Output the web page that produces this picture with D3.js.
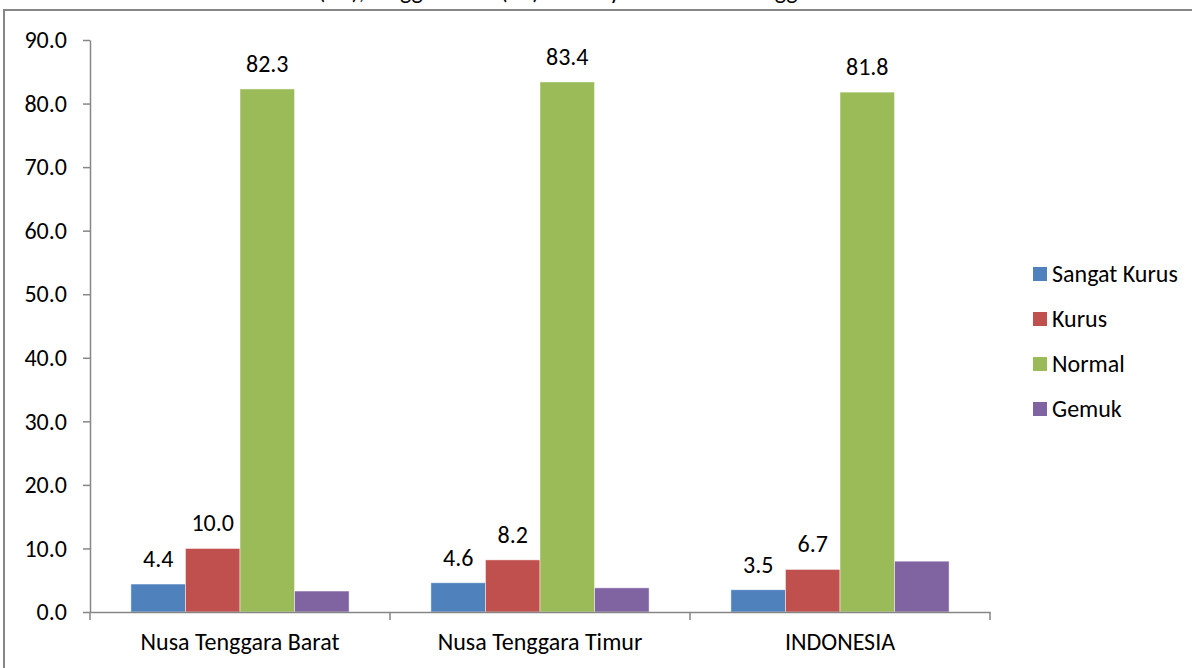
<!DOCTYPE html>
<html>
<head>
<meta charset="utf-8">
<script src="https://cdn.jsdelivr.net/npm/d3@7"></script>
<style>
  html, body { margin: 0; padding: 0; background: #fff; }
  svg text { font-family: Carlito, Calibri, Lato, "Open Sans", sans-serif; fill: #000; }
</style>
</head>
<body>
<svg id="chart" width="1192" height="668"></svg>
<script>
// Regions and the four nutrition-status series (percent)
const categories = ["Nusa Tenggara Barat", "Nusa Tenggara Timur", "INDONESIA"];
const seriesNames = ["Sangat Kurus", "Kurus", "Normal", "Gemuk"];
const sangatKurus = [4.4, 4.6, 3.5];
const kurus = [10.0, 8.2, 6.7];
const normal = [82.3, 83.4, 81.8];
const gemuk = [3.3, 3.8, 8.0];
const labeledSeries = ["Sangat Kurus", "Kurus", "Normal"];
const yTicks = [0, 10, 20, 30, 40, 50, 60, 70, 80, 90];
const titleText = "Status Gizi Menurut Berat Badan (BB), Tinggi Badan (TB) di Masyarakat Nusa Tenggara";

const colors = ["#4F81BD", "#C0504D", "#9BBB59", "#8064A2"];
const seriesValues = [sangatKurus, kurus, normal, gemuk];

const svg = d3.select("#chart");
const axisColor = "#868686";
const fontSize = "24px";

// chart title (second line sits just above the frame)
svg.append("text")
  .attr("x", -5).attr("y", -1)
  .attr("text-anchor", "start")
  .style("font-size", fontSize)
  .text(titleText);

// outer chart frame
svg.append("rect")
  .attr("x", 4).attr("y", 10)
  .attr("width", 1200).attr("height", 700)
  .attr("fill", "none")
  .attr("stroke", axisColor)
  .attr("stroke-width", 2);

const plot = { left: 90, right: 990, top: 40, bottom: 612 };

const x0 = d3.scaleBand().domain(categories).range([plot.left, plot.right]).padding(0);
const x1 = d3.scaleBand().domain(seriesNames).range([0, x0.bandwidth()])
  .paddingInner(0).paddingOuter(0.75);
const y = d3.scaleLinear().domain([0, 90]).range([plot.bottom, plot.top]);
const color = d3.scaleOrdinal().domain(seriesNames).range(colors);

// y axis
const yAxis = svg.append("g")
  .attr("transform", `translate(${plot.left},0)`)
  .call(d3.axisLeft(y).tickValues(yTicks).tickFormat(d3.format(".1f"))
    .tickSize(7).tickSizeOuter(0).tickPadding(16));
yAxis.select(".domain").attr("stroke", axisColor).attr("stroke-width", 1.5);
yAxis.selectAll(".tick line").attr("stroke", axisColor).attr("stroke-width", 1.5);
yAxis.selectAll(".tick text").style("font-size", fontSize).attr("fill", "#000");

// bars
const rows = categories.map((c, i) => ({
  category: c,
  values: seriesNames.map((s, j) => ({ series: s, value: seriesValues[j][i] }))
}));

const groups = svg.append("g").selectAll("g")
  .data(rows).join("g")
  .attr("transform", d => `translate(${x0(d.category)},0)`);

groups.selectAll("rect")
  .data(d => d.values).join("rect")
  .attr("x", d => x1(d.series))
  .attr("width", x1.bandwidth())
  .attr("y", d => y(d.value))
  .attr("height", d => y(0) - y(d.value))
  .attr("fill", d => color(d.series))
  .attr("stroke", "#ffffff")
  .attr("stroke-opacity", 0.6)
  .attr("stroke-width", 0.8);

// value labels
groups.selectAll("text.value")
  .data(d => d.values.filter(v => labeledSeries.includes(v.series))).join("text")
  .attr("class", "value")
  .attr("x", d => x1(d.series) + x1.bandwidth() / 2)
  .attr("y", d => y(d.value) - 17)
  .attr("text-anchor", "middle")
  .style("font-size", fontSize)
  .text(d => d3.format(".1f")(d.value));

// x axis with ticks on category boundaries
const xAxis = svg.append("g")
  .attr("transform", `translate(0,${plot.bottom})`)
  .call(d3.axisBottom(x0).tickSize(0).tickPadding(21));
xAxis.select(".domain").attr("stroke", axisColor).attr("stroke-width", 1.5);
xAxis.selectAll(".tick text").style("font-size", fontSize).attr("fill", "#000");

const boundaries = categories.map(c => x0(c)).concat([x0(categories[categories.length - 1]) + x0.bandwidth()]);
xAxis.selectAll("line.boundary")
  .data(boundaries).join("line")
  .attr("class", "boundary")
  .attr("x1", d => d).attr("x2", d => d)
  .attr("y1", 0).attr("y2", 8)
  .attr("stroke", axisColor).attr("stroke-width", 1.5);

// legend
const legend = svg.append("g").attr("transform", "translate(1033,274)");
const items = legend.selectAll("g")
  .data(seriesNames).join("g")
  .attr("transform", (d, i) => `translate(0,${i * 45})`);
items.append("rect")
  .attr("x", 0).attr("y", -7)
  .attr("width", 14).attr("height", 14)
  .attr("fill", d => color(d));
items.append("text")
  .attr("x", 19).attr("y", 0)
  .attr("dy", "0.35em")
  .style("font-size", fontSize)
  .text(d => d);
</script>
</body>
</html>
